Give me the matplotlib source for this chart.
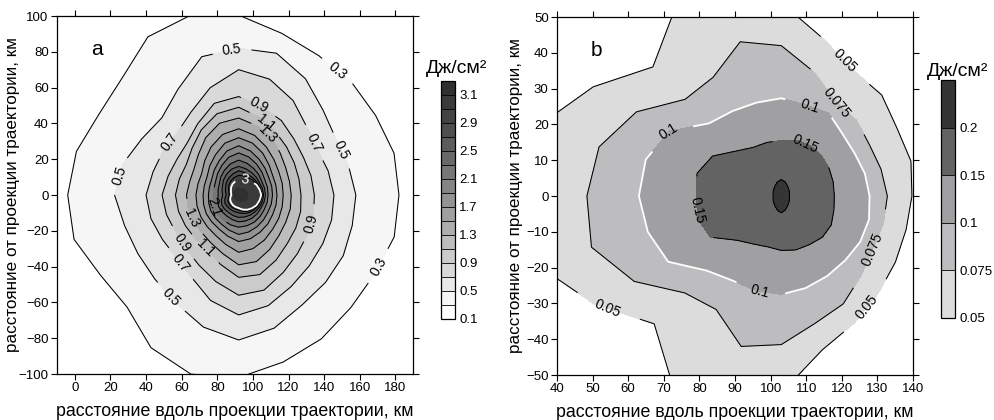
import numpy as np
import matplotlib.pyplot as plt

plt.rcParams['font.family'] = ['Liberation Sans', 'DejaVu Sans']

# ---------------- panel a : contour rings, radius (km) from centre per direction ----------------
cen_a = (92, 0)
ang_a = [0, 15, 30, 45, 60, 75, 90, 105, 120, 135, 150, 165,
         180, 195, 210, 225, 240, 255, 270, 285, 300, 315, 330, 345]
lev_a = [0.3, 0.5, 0.7, 0.9, 1.1, 1.3, 1.5, 1.7, 1.9, 2.1, 2.3, 2.5, 2.7, 2.9, 3.0, 3.1]
r_a_03 = [90, 90.3, 88.8, 89.4, 89.9, 93.5, 100.5, 104, 102, 92.5, 90.5, 94.3,
          96, 95.7, 89.6, 88.6, 98.5, 103.6, 102, 96.6, 92.8, 89, 88.2, 90.4]
r_a_05 = [65.8, 63.8, 63, 67, 75, 82, 82, 80, 68.2, 61, 62.8, 67.3,
          69.7, 66.3, 65.4, 66.5, 70, 76.4, 81, 77, 71, 69, 67.8, 66]
r_a_07 = [53.5, 52, 51, 54, 61, 67, 70, 62, 53.5, 49, 49, 49.8,
          52, 51, 49.5, 49.5, 53, 61, 67, 64, 59, 56, 54.5, 54]
r_a_09 = [42.5, 42, 42, 44, 48, 51, 55, 53, 46, 41, 40, 41,
          43, 42, 41, 42, 45, 50, 56, 55, 50, 46.5, 44.5, 43.5]
r_a_11 = [35, 35, 36, 38, 41, 45, 49, 47, 42, 37, 34, 34.5,
          35.5, 35, 34.5, 34.5, 35, 40, 46, 46, 42, 38.5, 37, 36]
r_a_13 = [29.5, 29.5, 30.5, 33, 37, 40, 43, 41.5, 37, 32, 29, 28.5,
          29.3, 29.3, 29.5, 29.5, 31, 34, 39, 38.5, 35, 32, 30.5, 30]
r_a_15 = [25, 25.3, 26, 28, 31, 34.5, 37, 35, 31, 27, 24, 23.7,
          24, 24.2, 24.5, 25, 26, 28.5, 32, 31, 29, 27, 26, 25.3]
r_a_17 = [21.5, 21.6, 22, 24, 27, 30, 32, 30, 26, 23, 20.5, 20,
          20, 20.4, 21, 21.3, 22, 23.8, 26, 25.3, 24, 23, 22, 21.7]
r_a_19 = [19, 19.2, 19.5, 21, 23, 25.5, 27.5, 25.5, 22, 19.5, 17.5, 17,
          17, 17.4, 18, 18.4, 19, 20.4, 22, 21.4, 20.5, 19.7, 19, 19]
r_a_21 = [16.5, 16.7, 17, 18.3, 20, 22, 23.5, 21.8, 19, 16.8, 15, 14.4,
          14, 14.7, 15.5, 16, 16.5, 17.3, 18, 17.8, 17.5, 17, 16.5, 16.5]
r_a_23 = [15, 15, 15, 16, 17, 18.3, 19.5, 18, 16, 14.2, 12.5, 12,
          11.5, 12.2, 13, 13.2, 13.5, 14.2, 15, 15, 15, 14.8, 14.5, 14.8]
r_a_25 = [14, 13.8, 13.5, 14, 14.5, 15.2, 16, 15, 13.5, 12, 10.5, 9.7,
          9, 10, 11, 11.2, 11.3, 11.9, 12.5, 12.7, 13, 13.2, 13.5, 13.8]
r_a_27 = [13.3, 12.9, 12.5, 12.5, 12.5, 13, 13.5, 12.3, 11, 9.8, 8.5, 7.7,
          7, 8, 9, 9.1, 9.3, 9.6, 10, 10.7, 11.5, 12, 12.5, 12.9]
r_a_29 = [13, 12.5, 12, 11.5, 11, 11, 11, 10, 9, 7.8, 6.5, 5.8,
          5.2, 6, 7, 7.4, 7.8, 8.1, 8.5, 9.5, 10.5, 11.2, 12, 12.5]
r_a_30 = [12.7, 12.1, 11.5, 10.5, 9.5, 9, 8.5, 7.8, 7, 6, 5, 4.5,
          4.1, 4.8, 5.5, 6, 6.5, 6.9, 7.3, 8.4, 9.5, 10.5, 11.5, 12.1]
r_a_31 = [5, 5, 5, 4.5, 4, 4, 4, 3.8, 3.5, 3.2, 3, 3,
          3, 3, 3, 3, 3, 3, 3, 3.5, 4, 4.5, 5, 5]
rings_a = [r_a_03, r_a_05, r_a_07, r_a_09, r_a_11, r_a_13, r_a_15, r_a_17,
           r_a_19, r_a_21, r_a_23, r_a_25, r_a_27, r_a_29, r_a_30, r_a_31]
edge_a, peak_a = 0.15, 3.2

fill_a = [0.1, 0.3, 0.5, 0.7, 0.9, 1.1, 1.3, 1.5, 1.7, 1.9, 2.1, 2.3, 2.5, 2.7, 2.9, 3.0, 3.1, 3.3]
gray_a = ['#ffffff', '#f6f6f6', '#e8e8e8', '#d9d9d9', '#cbcbcb', '#bdbdbd', '#adadad',
          '#a0a0a0', '#939393', '#858585', '#777777', '#686868', '#5c5c5c', '#4f4f4f',
          '#434343', '#3a3a3a', '#303030']
ticks_a = [0.1, 0.5, 0.9, 1.3, 1.7, 2.1, 2.5, 2.9, 3.1]

lab_a = {0.3: [(148, 70), (171, -40)],
         0.5: [(89, 78), (24, 11), (54, -57), (150, 25)],
         0.7: [(54, 29), (134, 29), (60, -38)],
         0.9: [(103, 49), (133, -16), (60, -27)],
         1.1: [(107, 40), (74, -29)],
         1.3: [(109, 35), (65, -13)],
         2.1: [(77, -7)],
         3.0: [(95, 6)]}

# ---------------- panel b ----------------
cen_b = (103, 0)
ang_b = ang_a
lev_b = [0.05, 0.075, 0.1, 0.15, 0.2]
r_b_050 = [36.7, 37.7, 37.6, 39.9, 40.5, 45.5, 54, 58, 60, 51, 61, 72,
           80, 72, 60.5, 50.5, 61, 58, 55, 44.5, 41, 38.5, 37, 36.3]
r_b_075 = [29.8, 29, 28.6, 29.9, 30.5, 35.8, 42, 44.6, 38.3, 38.2, 47, 53,
           54.6, 55.2, 47.7, 38.3, 36.6, 43.5, 41.5, 36.8, 34.8, 31.6, 29.7, 29.7]
r_b_100 = [24.8, 24.3, 23.8, 24.4, 26.7, 26.4, 27.3, 27, 27.4, 28.7, 36.3, 39.4,
           40, 38.8, 36.7, 29.5, 27.3, 27.4, 27.5, 26.6, 25.8, 25.4, 25.6, 25.5]
r_b_150 = [14.9, 15.1, 15.5, 16, 16.3, 16.2, 15.5, 15.5, 15.7, 17.8, 22.3, 24.5,
           23.8, 24.4, 23, 17.5, 15.5, 14.7, 15.2, 15.6, 15.7, 16.3, 16.2, 15.3]
r_b_200 = [2.3, 2.4, 2.6, 2.9, 3.4, 4.1, 4.6, 4.1, 3.4, 2.9, 2.6, 2.4,
           2.3, 2.4, 2.6, 2.9, 3.4, 4.1, 4.7, 4.1, 3.4, 2.9, 2.6, 2.4]
rings_b = [r_b_050, r_b_075, r_b_100, r_b_150, r_b_200]
edge_b, peak_b = 0.03, 0.22

fill_b = [0.05, 0.075, 0.1, 0.15, 0.2, 0.25]
gray_b = ['#dcdcdc', '#bdbdbf', '#a0a0a2', '#636363', '#353535']
ticks_b = [0.05, 0.075, 0.1, 0.15, 0.2]

lab_b = {0.05: [(120, 37), (127, -31), (54, -32)],
         0.075: [(118.5, 26), (128.6, -15)],
         0.1: [(111, 25), (97, -27), (71.7, 17.6)],
         0.15: [(109.5, 13.7), (78.7, -4)]}

xlab = 'расстояние вдоль проекции траектории, км'
ylab = 'расстояние от проекции траектории, км'
unit = 'Дж/см²'


def ring_grid(cen, ang, rings, levels, edge, peak, r_out):
    th = np.deg2rad(np.append(ang, ang[0] + 360))
    rr = [np.full(len(th), r_out)]
    rr += [np.append(r, r[0]) for r in rings]
    rr += [np.zeros(len(th))]
    rr = np.array(rr, dtype=float)
    zz = np.array([edge] + list(levels) + [peak])[:, None] * np.ones(len(th))
    return cen[0] + rr * np.cos(th), cen[1] + rr * np.sin(th), zz


def style(ax):
    ax.tick_params(direction='out', length=4, width=0.8, top=True, right=True,
                   labelsize=9.5, pad=2)
    for s in ax.spines.values():
        s.set_linewidth(0.9)


fig = plt.figure(figsize=(9.95, 4.2), dpi=100)

# ---- a
ax = fig.add_axes([0.0573, 0.1095, 0.358, 0.8524])
X, Y, Z = ring_grid(cen_a, ang_a, rings_a, lev_a, edge_a, peak_a, 170)
cf_a = ax.contourf(X, Y, Z, levels=fill_a, colors=gray_a)
for lv in lev_a[:-1]:
    col = 'white' if lv == 3.0 else 'black'
    cs = ax.contour(X, Y, Z, levels=[lv], colors=col,
                    linewidths=1.3 if lv == 3.0 else 0.75)
    if lv in lab_a:
        ax.clabel(cs, fmt='%g', fontsize=10, inline=True, inline_spacing=2,
                  manual=lab_a[lv], colors=col)
ax.set_xlim(-10, 190)
ax.set_ylim(-100, 100)
ax.set_xticks(np.arange(0, 181, 20))
ax.set_yticks(np.arange(-100, 101, 20))
style(ax)
ax.set_xlabel(xlab, fontsize=12.8)
ax.set_ylabel(ylab, fontsize=12.3)
ax.xaxis.set_label_coords(0.5, -0.08)
ax.yaxis.set_label_coords(-0.104, 0.5)
ax.text(0.095, 0.89, 'a', transform=ax.transAxes, fontsize=15)

cax = fig.add_axes([0.4432, 0.2405, 0.0141, 0.5667])
cb = fig.colorbar(cf_a, cax=cax, ticks=ticks_a, format='%g', drawedges=True)
cb.outline.set_linewidth(0.9)
cb.dividers.set_linewidth(0.6)
cax.tick_params(length=0, labelsize=9.5, pad=3)
fig.text(0.459, 0.838, unit, fontsize=14, ha='center', va='center')

# ---- b
ax = fig.add_axes([0.5598, 0.1071, 0.3578, 0.8524])
X, Y, Z = ring_grid(cen_b, ang_b, rings_b, lev_b, edge_b, peak_b, 110)
cf_b = ax.contourf(X, Y, Z, levels=fill_b, colors=gray_b)
for lv in lev_b:
    col = 'white' if lv == 0.1 else 'black'
    cs = ax.contour(X, Y, Z, levels=[lv], colors=col,
                    linewidths=1.3 if lv == 0.1 else 0.75)
    if lv in lab_b:
        ax.clabel(cs, fmt='%g', fontsize=10, inline=True, inline_spacing=2,
                  manual=lab_b[lv], colors='black')
ax.set_xlim(40, 140)
ax.set_ylim(-50, 50)
ax.set_xticks(np.arange(40, 141, 10))
ax.set_yticks(np.arange(-50, 51, 10))
style(ax)
ax.set_xlabel(xlab, fontsize=12.8)
ax.set_ylabel(ylab, fontsize=12.3)
ax.xaxis.set_label_coords(0.5, -0.08)
ax.yaxis.set_label_coords(-0.0955, 0.5)
ax.text(0.095, 0.89, 'b', transform=ax.transAxes, fontsize=15)

cax = fig.add_axes([0.9457, 0.2429, 0.0141, 0.5667])
cb = fig.colorbar(cf_b, cax=cax, ticks=ticks_b, format='%g', drawedges=True)
cb.outline.set_linewidth(0.9)
cb.dividers.set_linewidth(0.6)
cax.tick_params(length=0, labelsize=9.5, pad=3)
fig.text(0.962, 0.83, unit, fontsize=14, ha='center', va='center')

fig.savefig('out.png', dpi=100)
